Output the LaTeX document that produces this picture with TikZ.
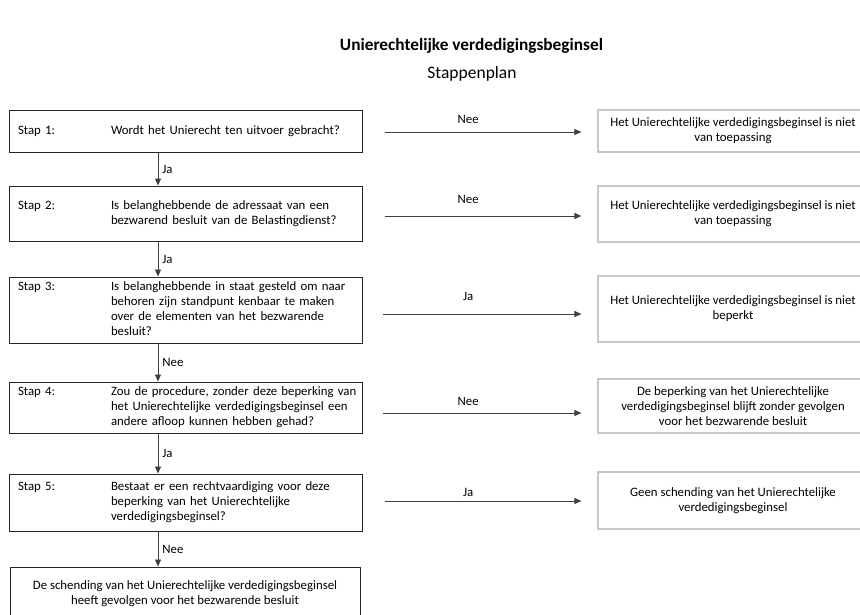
\documentclass[tikz,border=0pt]{standalone}
\usepackage{fontspec}
\setmainfont{Carlito}
\usetikzlibrary{arrows.meta}
\newcommand{\stapregel}[2]{\makebox[93pt][l]{#1}\begin{tabular}[t]{@{}l@{}}#2\end{tabular}}

\begin{document}
\begin{tikzpicture}[x=1pt, y=-1pt,
    vraag/.style = {draw=black!85, line width=1pt, text width=335pt, inner xsep=9pt, inner ysep=0pt, align=left, font=\fontsize{12.8}{15}\selectfont},
    eind/.style = {draw=black!85, line width=1pt, minimum width=350pt, inner ysep=0pt, align=center, font=\fontsize{12.8}{15}\selectfont},
    uitkomst/.style = {draw=black!22, line width=1.2pt, minimum width=270pt, inner ysep=0pt, align=center, font=\fontsize{12.8}{15}\selectfont},
    lab/.style = {inner sep=2pt, font=\fontsize{12.8}{15}\selectfont},
    pijl/.style = {draw=black!75, line width=0.8pt, -{Triangle[length=7pt,width=6pt]}}]
    \useasboundingbox (0,0) rectangle (860,614);
    \node[font=\fontsize{17.3}{20}\selectfont\bfseries] (titel) at (471.5,46) {Unierechtelijke verdedigingsbeginsel};
    \node[font=\fontsize{17.5}{20}\selectfont] (plan) at (472,74) {Stappenplan};
    % stappen
    \node[vraag, minimum height=42pt] (1) at (185.5,131) {\stapregel{Stap 1:}{Wordt het Unierecht ten uitvoer gebracht?}};
    \node[vraag, minimum height=55pt] (2) at (185.5,213.5) {\stapregel{Stap 2:}{Is belanghebbende de adressaat van een\\bezwarend besluit van de Belastingdienst?}};
    \node[vraag, minimum height=66pt] (3) at (185.5,310) {\stapregel{Stap 3:}{Is belanghebbende in staat gesteld om naar\\behoren zijn standpunt kenbaar te maken\\over de elementen van het bezwarende\\besluit?}};
    \node[vraag, minimum height=51pt] (4) at (185.5,407.5) {\stapregel{Stap 4:}{Zou de procedure, zonder deze beperking van\\het Unierechtelijke verdedigingsbeginsel een\\andere afloop kunnen hebben gehad?}};
    \node[vraag, minimum height=57pt] (5) at (185.5,502.5) {\stapregel{Stap 5:}{Bestaat er een rechtvaardiging voor deze\\beperking van het Unierechtelijke\\verdedigingsbeginsel?}};
    \node[eind, minimum height=53pt] (6) at (185,593.5) {De schending van het Unierechtelijke verdedigingsbeginsel\\heeft gevolgen voor het bezwarende besluit};
    % uitkomsten
    \node[uitkomst, minimum height=42pt] (1r) at (733,131) {Het Unierechtelijke verdedigingsbeginsel is niet\\van toepassing};
    \node[uitkomst, minimum height=56pt] (2r) at (733,214) {Het Unierechtelijke verdedigingsbeginsel is niet\\van toepassing};
    \node[uitkomst, minimum height=66pt] (3r) at (733,309) {Het Unierechtelijke verdedigingsbeginsel is niet\\beperkt};
    \node[uitkomst, minimum height=54pt] (4r) at (733,406) {De beperking van het Unierechtelijke\\verdedigingsbeginsel blijft zonder gevolgen\\voor het bezwarende besluit};
    \node[uitkomst, minimum height=57pt] (5r) at (733,500.5) {Geen schending van het Unierechtelijke\\verdedigingsbeginsel};
    % omlaag
    \draw[pijl] ([xshift=-27.5pt]1.south) -- node[lab, right=2pt] (j1) {Ja} ([xshift=-27.5pt]2.north);
    \draw[pijl] ([xshift=-27.5pt]2.south) -- node[lab, right=2pt] (j2) {Ja} ([xshift=-27.5pt]3.north);
    \draw[pijl] ([xshift=-27.5pt]3.south) -- node[lab, right=2pt] (n3) {Nee} ([xshift=-27.5pt]4.north);
    \draw[pijl] ([xshift=-27.5pt]4.south) -- node[lab, right=2pt] (j4) {Ja} ([xshift=-27.5pt]5.north);
    \draw[pijl] ([xshift=-27.5pt]5.south) -- node[lab, right=2pt] (n5) {Nee} ([xshift=-27pt]6.north);
    % opzij
    \draw[pijl, shorten <=22pt, shorten >=16pt] ([yshift=-1pt]1.east) -- node[lab, pos=0.45, above=6pt] (n1r) {Nee} ([yshift=-1pt]1r.west);
    \draw[pijl, shorten <=22pt, shorten >=16pt] ([yshift=-2.5pt]2.east) -- node[lab, pos=0.45, above=10pt] (n2r) {Nee} ([yshift=-2pt]2r.west);
    \draw[pijl, shorten <=20pt, shorten >=16pt] ([yshift=-4pt]3.east) -- node[lab, pos=0.45, above=11pt] (j3r) {Ja} ([yshift=-5pt]3r.west);
    \draw[pijl, shorten <=20pt, shorten >=16pt] ([yshift=-5.5pt]4.east) -- node[lab, pos=0.45, above=5pt] (n4r) {Nee} ([yshift=-7pt]4r.west);
    \draw[pijl, shorten <=22pt, shorten >=16pt] ([yshift=1.5pt]5.east) -- node[lab, pos=0.45, above=2pt] (j5r) {Ja} ([yshift=-0.5pt]5r.west);
\end{tikzpicture}
\end{document}
